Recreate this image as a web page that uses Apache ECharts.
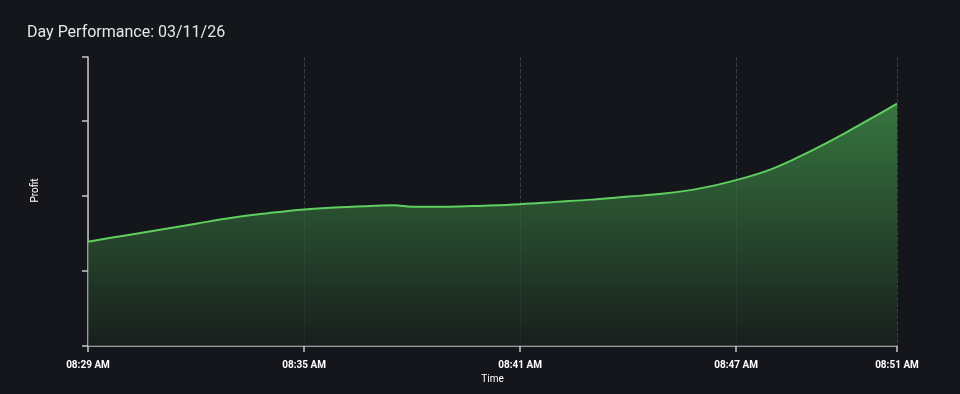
<!DOCTYPE html>
<html>
<head>
<meta charset="utf-8">
<script src="https://cdn.jsdelivr.net/npm/echarts@6/dist/echarts.min.js"></script>
<style>
html,body{margin:0;padding:0;background:#14161b;}
#chart{width:960px;height:394px;}
</style>
</head>
<body>
<div id="chart"></div>
<script>
// Data
var times = ["08:29:00","08:30:00","08:31:00","08:32:00","08:33:00","08:34:00","08:35:00","08:36:00","08:37:00","08:37:30","08:38:00","08:39:00","08:40:00","08:41:00","08:42:00","08:43:00","08:44:00","08:45:00","08:46:00","08:47:00","08:48:00","08:49:00","08:50:00","08:51:00","08:51:28"];
var profit = [139,147,155,163,171,177,182,185,187,187.5,185.5,185.5,187,189,192,195,199,203,210,221,236,258,283,310,323];
var titleText = "Day Performance: 03/11/26";
var yAxisName = "Profit";
var xAxisName = "Time";

function toMin(t){var p=t.split(":");return (+p[0])*60+(+p[1])+(+p[2])/60;}
var t0 = toMin(times[0]);
var seriesData = times.map(function(t,i){return [toMin(t)-t0, profit[i]];});
var xMax = toMin(times[times.length-1]) - t0;

function fmt(v){
  var m = Math.floor(t0 + v + 1e-6);
  var h = Math.floor(m/60), mm = m%60;
  var ap = h>=12?"PM":"AM";
  var hh = h%12; if(hh===0) hh=12;
  return (hh<10?"0":"")+hh+":"+(mm<10?"0":"")+mm+" "+ap;
}

var chart = echarts.init(document.getElementById('chart'), null, {renderer:'canvas'});
chart.setOption({
  backgroundColor:'#14161b',
  animation:false,
  title:{
    text:titleText, left:22, top:20,
    textStyle:{color:'#e4e6ea', fontFamily:'Roboto', fontSize:16, fontWeight:'normal'}
  },
  grid:{left:88, right:63, top:57, bottom:48, containLabel:false},
  xAxis:{
    type:'value', min:0, max:xMax, interval:6,
    name:xAxisName, nameLocation:'middle', nameGap:24,
    nameTextStyle:{color:'#ffffff', fontFamily:'Roboto', fontSize:10},
    axisLine:{show:true, lineStyle:{color:'#c8c8c8', width:1.5}},
    axisTick:{show:true, length:6, lineStyle:{color:'#c8c8c8', width:1.5}},
    axisLabel:{color:'#ffffff', fontFamily:'Roboto', fontSize:10, fontWeight:'bold', margin:14, formatter:fmt},
    splitLine:{show:true, lineStyle:{color:'#3a3d44', type:'dashed', width:1}}
  },
  yAxis:{
    type:'value', min:0, max:385, interval:100,
    name:yAxisName, nameLocation:'middle', nameGap:48,
    nameTextStyle:{color:'#ffffff', fontFamily:'Roboto', fontSize:10, padding:[0,0,0,22]},
    axisLine:{show:true, lineStyle:{color:'#c8c8c8', width:1.5}},
    axisTick:{show:true, length:6, lineStyle:{color:'#c8c8c8', width:1.5}},
    axisLabel:{show:false},
    splitLine:{show:false}
  },
  series:[{
    type:'line', data:seriesData, smooth:0.4, symbol:'none',
    lineStyle:{color:'#5fcf60', width:2},
    areaStyle:{color:new echarts.graphic.LinearGradient(0,0,0,1,[
      {offset:0, color:'#459e4e'},
      {offset:1, color:'#1a221e'}
    ])}
  }]
});
</script>
</body>
</html>
